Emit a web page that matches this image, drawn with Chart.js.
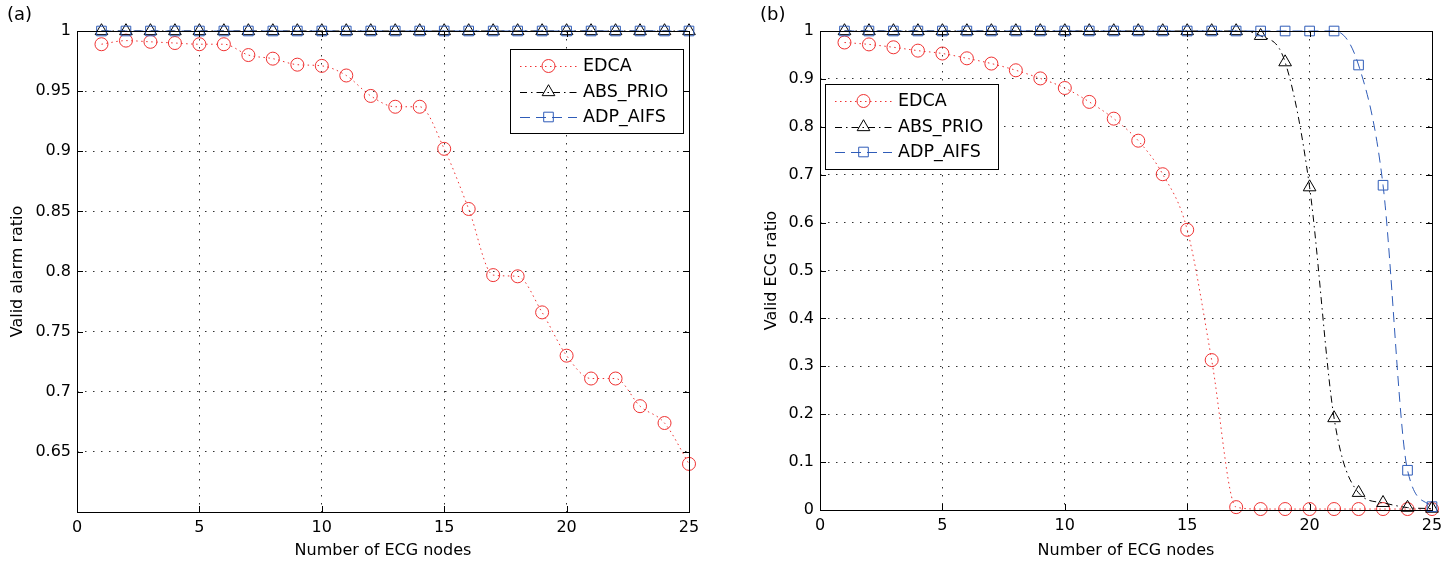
<!DOCTYPE html>
<html>
<head>
<meta charset="utf-8">
<script src="https://cdn.jsdelivr.net/npm/chart.js@4/dist/chart.umd.min.js"></script>
<style>
  body { margin: 0; background: #fff; width: 1455px; height: 563px; position: relative; overflow: hidden; }
  canvas { position: absolute; top: 0; z-index: 1; }
  #chartA { left: 0; }
  #chartB { left: 754px; }
  .tag { position: absolute; top: 3px; z-index: 2; font: 18px "DejaVu Sans", sans-serif; color: #000; }
</style>
</head>
<body>
<div class="tag" style="left:7px">(a)</div>
<div class="tag" style="left:760px">(b)</div>
<canvas id="chartA" width="727" height="563"></canvas>
<canvas id="chartB" width="701" height="563"></canvas>
<script>
// ================= DADOS =================
const nodes = [1, 2, 3, 4, 5, 6, 7, 8, 9, 10, 11, 12, 13, 14, 15, 16, 17, 18, 19, 20, 21, 22, 23, 24, 25];
const seriesNames = ["EDCA", "ABS_PRIO", "ADP_AIFS"];

// (a) valid alarm ratio
const alarmEDCA = [0.989, 0.992, 0.991, 0.990, 0.989, 0.989, 0.980, 0.977, 0.972, 0.971, 0.963, 0.946, 0.937, 0.937,
  0.902, 0.852, 0.797, 0.796, 0.766, 0.730, 0.711, 0.711, 0.688, 0.674, 0.640];
const alarmABS = [1, 1, 1, 1, 1, 1, 1, 1, 1, 1, 1, 1, 1, 1, 1, 1, 1, 1, 1, 1, 1, 1, 1, 1, 1];
const alarmADP = [1, 1, 1, 1, 1, 1, 1, 1, 1, 1, 1, 1, 1, 1, 1, 1, 1, 1, 1, 1, 1, 1, 1, 1, 1];

// (b) valid ECG ratio
const ecgEDCA = [0.976, 0.972, 0.966, 0.959, 0.953, 0.943, 0.932, 0.918, 0.901, 0.881, 0.852, 0.817, 0.771, 0.701,
  0.585, 0.313, 0.006, 0.002, 0.002, 0.002, 0.002, 0.002, 0.002, 0.002, 0.002];
const ecgABS = [1, 1, 1, 1, 1, 1, 1, 1, 1, 1, 1, 1, 1, 1, 1, 1, 1, 0.99, 0.935, 0.674, 0.192, 0.036, 0.015, 0.005, 0.003];
const ecgADP = [1, 1, 1, 1, 1, 1, 1, 1, 1, 1, 1, 1, 1, 1, 1, 1, 1, 1, 1, 1, 1, 0.929, 0.678, 0.083, 0.007];

// ticks
const xTicks = [0, 5, 10, 15, 20, 25];
const yTicksAlarm = [0.65, 0.7, 0.75, 0.8, 0.85, 0.9, 0.95, 1];
const yTicksEcg = [0, 0.1, 0.2, 0.3, 0.4, 0.5, 0.6, 0.7, 0.8, 0.9, 1];

// ================= ESTILO =================
const FONT = "'DejaVu Sans', sans-serif";
const styles = [
  { color: "#f03232", dash: [1.5, 3.5], point: "circle", radius: 6.5 },
  { color: "#000000", dash: [7, 4, 1.5, 4], point: "triangle", radius: 7.3 },
  { color: "#2f5cb8", dash: [10, 6], point: "rect", radius: 6.8 }
];

const toXY = arr => nodes.map((n, i) => ({ x: n, y: arr[i] }));

// frame, inner ticks and a matlab-like legend box
const matlabPlugin = {
  id: "matlab",
  beforeDraw(chart) {
    const c = chart.ctx;
    c.save();
    c.fillStyle = "#fff";
    c.fillRect(0, 0, chart.width, chart.height);
    c.restore();
  },
  afterDraw(chart, args, opts) {
    const c = chart.ctx;
    const a = chart.chartArea;
    const xs = chart.scales.x, ys = chart.scales.y;
    c.save();
    c.strokeStyle = "#000";
    c.lineWidth = 1;
    c.setLineDash([]);
    c.beginPath();
    xs.ticks.forEach(t => {
      const px = Math.round(xs.getPixelForValue(t.value)) + 0.5;
      c.moveTo(px, a.bottom); c.lineTo(px, a.bottom - 6);
      c.moveTo(px, a.top); c.lineTo(px, a.top + 6);
    });
    ys.ticks.forEach(t => {
      const py = Math.round(ys.getPixelForValue(t.value)) + 0.5;
      c.moveTo(a.left, py); c.lineTo(a.left + 6, py);
      c.moveTo(a.right, py); c.lineTo(a.right - 6, py);
    });
    c.stroke();
    c.strokeRect(Math.round(a.left) + 0.5, Math.round(a.top) + 0.5, Math.round(a.right - a.left), Math.round(a.bottom - a.top));

    // legend
    const L = opts.box;
    c.fillStyle = "#fff";
    c.fillRect(L.x, L.y, L.w, L.h);
    c.strokeRect(L.x + 0.5, L.y + 0.5, L.w, L.h);
    chart.data.datasets.forEach((ds, i) => {
      const y = L.rows[i];
      c.save();
      c.strokeStyle = ds.borderColor;
      c.fillStyle = "rgba(0,0,0,0)";
      c.lineWidth = 1;
      c.setLineDash(ds.borderDash);
      c.beginPath();
      c.moveTo(L.lineX0, y + 0.5); c.lineTo(L.lineX1, y + 0.5);
      c.stroke();
      c.setLineDash([]);
      Chart.helpers.drawPoint(c, {
        pointStyle: ds.pointStyle, radius: ds.pointRadius, borderWidth: 1, rotation: 0
      }, (L.lineX0 + L.lineX1) / 2, y);
      c.restore();
      c.fillStyle = "#000";
      c.font = "17.5px " + FONT;
      c.textBaseline = "middle";
      c.textAlign = "left";
      c.fillText(ds.label, L.textX, y);
    });
    c.restore();
  }
};

function makeChart(id, seriesList, yMin, yMax, yTicks, yTitle, layout, legendBox) {
  const datasets = seriesList.map((arr, i) => ({
    label: seriesNames[i],
    data: toXY(arr),
    borderColor: styles[i].color,
    borderWidth: 1,
    borderDash: styles[i].dash,
    pointStyle: styles[i].point,
    pointRadius: styles[i].radius,
    pointBorderColor: styles[i].color,
    pointBackgroundColor: "rgba(0,0,0,0)",
    pointBorderWidth: 1,
    fill: false,
    cubicInterpolationMode: "monotone",
    clip: false,
    order: 3 - i
  }));

  return new Chart(document.getElementById(id), {
    type: "line",
    data: { datasets },
    plugins: [matlabPlugin],
    options: {
      responsive: false,
      animation: false,
      layout: { padding: layout.padding },
      plugins: {
        legend: { display: false },
        tooltip: { enabled: false },
        matlab: { box: legendBox }
      },
      scales: {
        x: {
          type: "linear", min: 0, max: 25,
          afterBuildTicks: s => { s.ticks = xTicks.map(v => ({ value: v })); },
          afterFit: s => { s.height = layout.xHeight; },
          grid: { color: "#333", lineWidth: 1, drawTicks: false },
          border: { display: false, dash: [1.5, 6.5] },
          ticks: { color: "#000", padding: 6, font: { family: FONT, size: 16 }, callback: v => String(v) },
          title: { display: true, text: "Number of ECG nodes", color: "#000", padding: { top: 0, bottom: 3 }, font: { family: FONT, size: 16 } }
        },
        y: {
          type: "linear", min: yMin, max: yMax,
          afterBuildTicks: s => { s.ticks = yTicks.map(v => ({ value: v })); },
          afterFit: s => { s.width = layout.yWidth; },
          grid: { color: "#333", lineWidth: 1, drawTicks: false },
          border: { display: false, dash: [1.5, 6.5] },
          ticks: { color: "#000", padding: 6, font: { family: FONT, size: 16 }, callback: v => String(Number(v.toFixed(2))) },
          title: { display: true, text: yTitle, color: "#000", padding: { top: 8, bottom: 0 }, font: { family: FONT, size: 16 } }
        }
      }
    }
  });
}

// ================= GRÁFICO (a) =================
makeChart("chartA", [alarmEDCA, alarmABS, alarmADP], 0.6, 1, yTicksAlarm, "Valid alarm ratio",
  { padding: { left: 0, right: 38, top: 31, bottom: 0 }, yWidth: 77, xHeight: 51 },
  { x: 510, y: 49, w: 173, h: 84, rows: [66, 92, 117], lineX0: 520, lineX1: 577, textX: 583 });

// ================= GRÁFICO (b) =================
makeChart("chartB", [ecgEDCA, ecgABS, ecgADP], 0, 1, yTicksEcg, "Valid ECG ratio",
  { padding: { left: 0, right: 23, top: 31, bottom: 0 }, yWidth: 66, xHeight: 53 },
  { x: 71, y: 84, w: 173, h: 85, rows: [101, 127, 152], lineX0: 81, lineX1: 138, textX: 144 });
</script>
</body>
</html>
